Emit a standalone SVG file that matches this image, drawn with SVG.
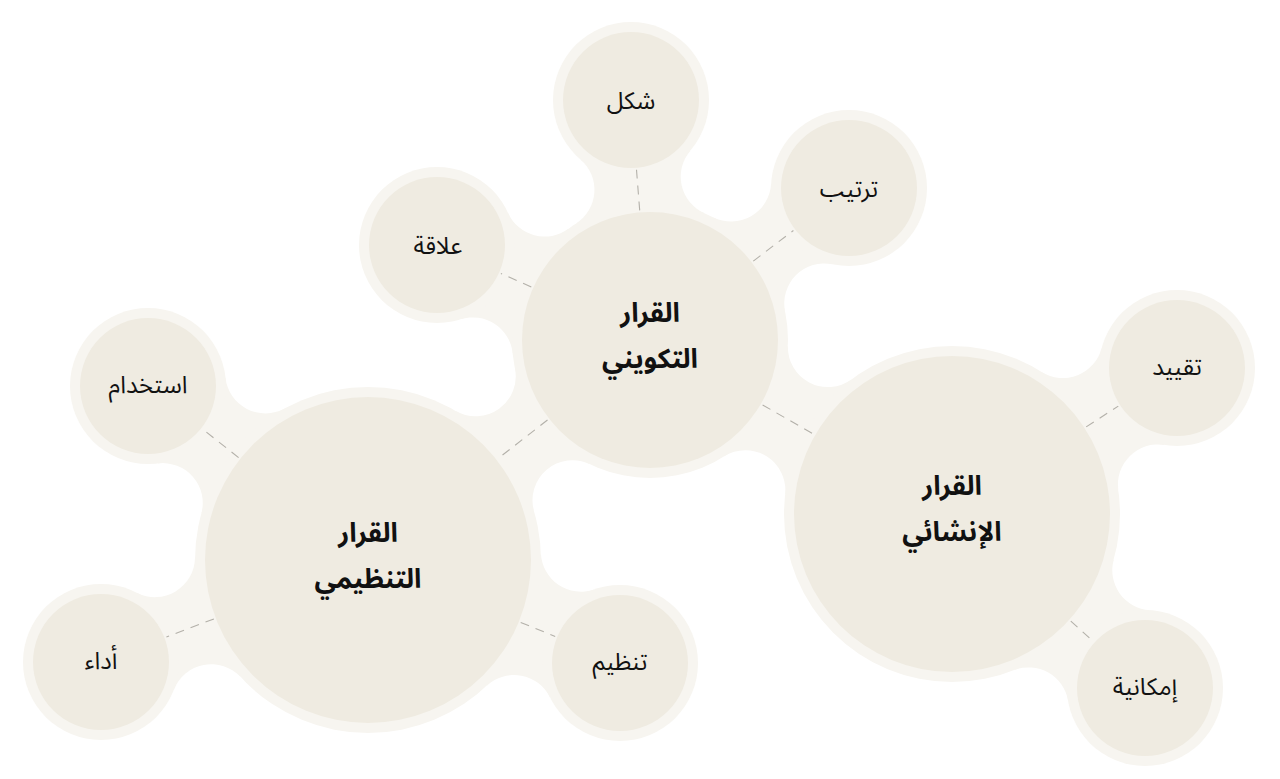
<svg xmlns="http://www.w3.org/2000/svg" width="1280" height="779" viewBox="0 0 1280 779">
<style>
.bridge{fill:#f7f5f0}
.halo{fill:#f7f5f0}
.core{fill:#efebe1}
.lbl{font-family:"Noto Sans Arabic","DejaVu Sans",sans-serif;fill:#111;text-anchor:middle}
.leaf{font-size:24px;dominant-baseline:central}
.hub{font-size:27px;font-weight:bold;dominant-baseline:central}
.conn{stroke:#b3b0a9;stroke-width:1.1;stroke-dasharray:9 7;fill:none}
</style>
<rect width="1280" height="779" fill="#ffffff"/>
<g id="bridges">
<path class="bridge" d="M704.8,213.4 A40,40 0 0 1 690.3,150.7 L580.4,159.4 A40,40 0 0 1 575.9,223.6 Z"/>
<path class="bridge" d="M785.1,311.6 A40,40 0 0 1 832.6,264.3 L771.1,183.8 A40,40 0 0 1 713.0,217.2 Z"/>
<path class="bridge" d="M568.3,228.8 A40,40 0 0 1 508.1,213.0 L460.7,319.3 A40,40 0 0 1 512.7,353.5 Z"/>
<path class="bridge" d="M514.9,368.1 A40,40 0 0 1 455.5,410.8 L534.1,511.4 A40,40 0 0 1 589.9,464.2 Z"/>
<path class="bridge" d="M723.9,456.5 A40,40 0 0 1 785.1,494.9 L851.7,379.2 A40,40 0 0 1 787.9,345.5 Z"/>
<path class="bridge" d="M1118.3,490.1 A40,40 0 0 1 1164.4,445.0 L1101.6,348.2 A40,40 0 0 1 1041.6,371.9 Z"/>
<path class="bridge" d="M1013.9,670.2 A40,40 0 0 1 1068.1,700.8 L1149.8,610.2 A40,40 0 0 1 1113.8,559.4 Z"/>
<path class="bridge" d="M284.6,408.4 A40,40 0 0 1 225.5,377.7 L157.8,463.4 A40,40 0 0 1 201.3,513.8 Z"/>
<path class="bridge" d="M195.0,557.6 A40,40 0 0 1 136.7,592.7 L173.8,689.9 A40,40 0 0 1 240.6,677.1 Z"/>
<path class="bridge" d="M486.7,685.9 A40,40 0 0 1 550.0,697.4 L594.1,589.4 A40,40 0 0 1 540.9,553.3 Z"/>
</g>
<g id="node-takwini">
<circle class="halo" cx="650" cy="340" r="138"/>
<circle class="core" cx="650" cy="340" r="128"/>
<text class="lbl hub" x="650" y="313">القرار</text>
<text class="lbl hub" x="650" y="359">التكويني</text>
</g>
<g id="node-inshaei">
<circle class="halo" cx="952" cy="514" r="168"/>
<circle class="core" cx="952" cy="514" r="158"/>
<text class="lbl hub" x="952" y="486">القرار</text>
<text class="lbl hub" x="952" y="532">الإنشائي</text>
</g>
<g id="node-tanzimi">
<circle class="halo" cx="368" cy="560" r="173"/>
<circle class="core" cx="368" cy="560" r="163"/>
<text class="lbl hub" x="368" y="533">القرار</text>
<text class="lbl hub" x="368" y="579">التنظيمي</text>
</g>
<g id="node-shakl">
<circle class="halo" cx="631" cy="100" r="78"/>
<circle class="core" cx="631" cy="100" r="68"/>
<text class="lbl leaf" x="631" y="101">شكل</text>
</g>
<g id="node-tartib">
<circle class="halo" cx="849" cy="188" r="78"/>
<circle class="core" cx="849" cy="188" r="68"/>
<text class="lbl leaf" x="849" y="189">ترتيب</text>
</g>
<g id="node-alaqa">
<circle class="halo" cx="437" cy="245" r="78"/>
<circle class="core" cx="437" cy="245" r="68"/>
<text class="lbl leaf" x="438" y="246">علاقة</text>
</g>
<g id="node-taqyid">
<circle class="halo" cx="1177" cy="368" r="78"/>
<circle class="core" cx="1177" cy="368" r="68"/>
<text class="lbl leaf" x="1177" y="367">تقييد</text>
</g>
<g id="node-imkaniya">
<circle class="halo" cx="1145" cy="688" r="78"/>
<circle class="core" cx="1145" cy="688" r="68"/>
<text class="lbl leaf" x="1145" y="687">إمكانية</text>
</g>
<g id="node-istikhdam">
<circle class="halo" cx="148" cy="386" r="78"/>
<circle class="core" cx="148" cy="386" r="68"/>
<text class="lbl leaf" x="148" y="385">استخدام</text>
</g>
<g id="node-adaa">
<circle class="halo" cx="101" cy="662" r="78"/>
<circle class="core" cx="101" cy="662" r="68"/>
<text class="lbl leaf" x="101" y="661">أداء</text>
</g>
<g id="node-tanzim">
<circle class="halo" cx="620" cy="663" r="78"/>
<circle class="core" cx="620" cy="663" r="68"/>
<text class="lbl leaf" x="620" y="662">تنظيم</text>
</g>
<g id="connectors">
<line class="conn" x1="639.7" y1="210.4" x2="636.5" y2="169.8"/>
<line class="conn" x1="753.3" y1="261.1" x2="793.4" y2="230.5"/>
<line class="conn" x1="531.3" y1="287.0" x2="500.9" y2="273.5"/>
<line class="conn" x1="547.5" y1="420.0" x2="498.1" y2="458.5"/>
<line class="conn" x1="762.6" y1="404.9" x2="813.4" y2="434.1"/>
<line class="conn" x1="1086.2" y1="426.9" x2="1118.3" y2="406.1"/>
<line class="conn" x1="1070.8" y1="621.1" x2="1093.0" y2="641.1"/>
<line class="conn" x1="238.6" y1="457.6" x2="202.9" y2="429.4"/>
<line class="conn" x1="213.9" y1="618.9" x2="166.4" y2="637.0"/>
<line class="conn" x1="520.7" y1="622.4" x2="555.2" y2="636.5"/>
</g>
</svg>
